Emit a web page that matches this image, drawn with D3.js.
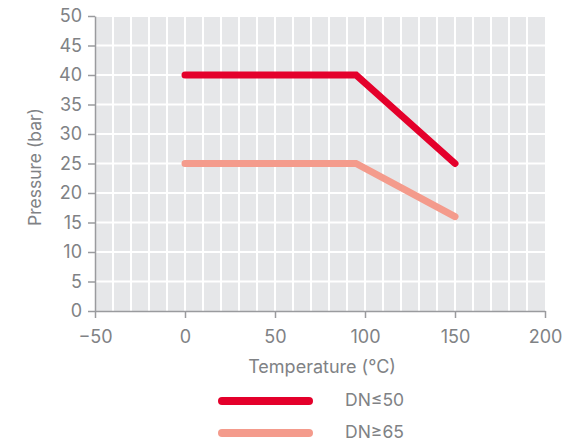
<!DOCTYPE html>
<html><head><meta charset="utf-8">
<script src="https://cdn.jsdelivr.net/npm/d3@7"></script>
<style>body{margin:0;background:#fff}svg{display:block}text{font-family:Inter,Roboto,sans-serif}</style>
</head><body><svg id="c" width="562" height="442"></svg>
<script>
const seriesNames = ["DN\u226450", "DN\u226565"];
const seriesColors = ["#e4002b", "#f49b8c"];
const temps = [[0, 95, 150], [0, 95, 150]];
const pressures = [[40, 40, 25], [25, 25, 16]];
const xTicks = [-50, 0, 50, 100, 150, 200];
const yTicks = [0, 5, 10, 15, 20, 25, 30, 35, 40, 45, 50];

const svg = d3.select("#c");
const x = d3.scaleLinear().domain([-50, 200]).range([95, 545]);
const y = d3.scaleLinear().domain([0, 50]).range([311, 16]);
const gray = "#808285";

svg.append("rect").attr("x", x(-50)).attr("y", y(50)).attr("width", x(200)-x(-50)).attr("height", y(0)-y(50)).attr("fill", "#e6e7e9");
const g = svg.append("g");
g.selectAll(".vg").data(d3.range(-40, 200, 10)).join("line")
  .attr("x1", d => x(d)).attr("x2", d => x(d)).attr("y1", y(50)).attr("y2", y(0))
  .attr("stroke", "#fff").attr("stroke-width", 2);
g.selectAll(".hg").data(d3.range(5, 55, 5)).join("line")
  .attr("y1", d => y(d)).attr("y2", d => y(d)).attr("x1", x(-50)).attr("x2", x(200))
  .attr("stroke", "#fff").attr("stroke-width", 2);

const xa = svg.append("g").attr("transform", `translate(0,${y(0)})`)
  .call(d3.axisBottom(x).tickValues(xTicks).tickSize(7).tickPadding(12).tickSizeOuter(0));
const ya = svg.append("g").attr("transform", `translate(${x(-50)},0)`)
  .call(d3.axisLeft(y).tickValues(yTicks).tickSize(7).tickPadding(6).tickSizeOuter(0));
[xa, ya].forEach(a => {
  a.selectAll("path,line").attr("stroke", "#9a9b9e").attr("stroke-width", 1.5);
  a.selectAll("text").attr("fill", gray).attr("font-size", 18);
});

const line = d3.line().x(d => x(d[0])).y(d => y(d[1]));
seriesNames.forEach((n, i) => {
  const pts = temps[i].map((t, j) => [t, pressures[i][j]]);
  svg.append("path").attr("d", line(pts)).attr("fill", "none")
    .attr("stroke", seriesColors[i]).attr("stroke-width", 7)
    .attr("stroke-linecap", "round").attr("stroke-linejoin", "miter");
});

svg.append("text").attr("x", 322).attr("y", 373).attr("text-anchor", "middle")
  .attr("fill", gray).attr("font-size", 18).text("Temperature (\u00b0C)");
svg.append("text").attr("transform", `translate(41,167) rotate(-90)`)
  .attr("text-anchor", "middle").attr("fill", gray).attr("font-size", 17.5).text("Pressure (bar)");

const leg = svg.append("g");
seriesNames.forEach((n, i) => {
  const ly = 401 + i * 32;
  leg.append("line").attr("x1", 222).attr("x2", 309).attr("y1", ly).attr("y2", ly)
    .attr("stroke", seriesColors[i]).attr("stroke-width", 8).attr("stroke-linecap", "round");
  leg.append("text").attr("x", 345).attr("y", ly + 5).attr("fill", gray).attr("font-size", 17.5)
    .text(n);
});
</script></body></html>
